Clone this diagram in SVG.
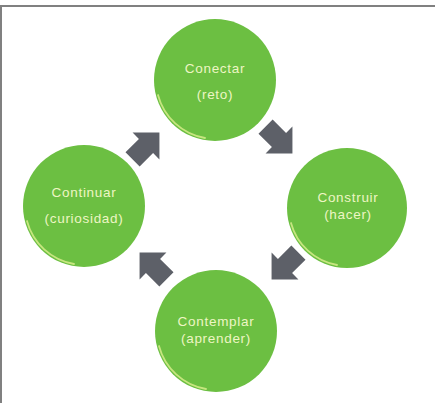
<svg xmlns="http://www.w3.org/2000/svg" width="435" height="403" viewBox="0 0 435 403">
<style>
.c{fill:#6cbf42}
.rim{fill:none;stroke:#d6ec8a;stroke-width:1.8;stroke-linecap:round;opacity:0.85}
.t{font-family:"Liberation Sans",Arial,sans-serif;font-size:13.5px;fill:#eef6c4;text-anchor:middle;letter-spacing:0.7px}
.a{fill:#5d6068}
</style>
<defs>
<path id="arr" d="M-19,-10 L0,-10 L0,-19 L19,0 L0,19 L0,10 L-19,10 Z"/>
</defs>
<rect width="435" height="403" fill="#fff"/>
<path d="M1,403 L1,6 L435,6" fill="none" stroke="#808080" stroke-width="2"/>
<g id="connectors">
<use href="#arr" class="a" transform="translate(146,146) rotate(-45)"/>
<use href="#arr" class="a" transform="translate(279,140) rotate(45)"/>
<use href="#arr" class="a" transform="translate(285,266) rotate(135)"/>
<use href="#arr" class="a" transform="translate(153,266) rotate(-135)"/>
</g>
<g id="conectar">
<circle class="c" cx="215" cy="80" r="61"/>
<path class="rim" d="M158,95 A59,59 0 0 0 205,138"/>
<text class="t" x="215" y="73">Conectar</text>
<text class="t" x="215" y="99">(reto)</text>
</g>
<g id="construir">
<circle class="c" cx="347" cy="208" r="60"/>
<path class="rim" d="M291,223 A58,58 0 0 0 337,265"/>
<text class="t" x="348" y="202">Construir</text>
<text class="t" x="348" y="219">(hacer)</text>
</g>
<g id="continuar">
<circle class="c" cx="84" cy="206" r="61"/>
<path class="rim" d="M27,221 A59,59 0 0 0 74,264"/>
<text class="t" x="84" y="197">Continuar</text>
<text class="t" x="84" y="223">(curiosidad)</text>
</g>
<g id="contemplar">
<circle class="c" cx="216" cy="331" r="61"/>
<path class="rim" d="M159,346 A59,59 0 0 0 206,389"/>
<text class="t" x="216" y="326">Contemplar</text>
<text class="t" x="216" y="343">(aprender)</text>
</g>
</svg>
